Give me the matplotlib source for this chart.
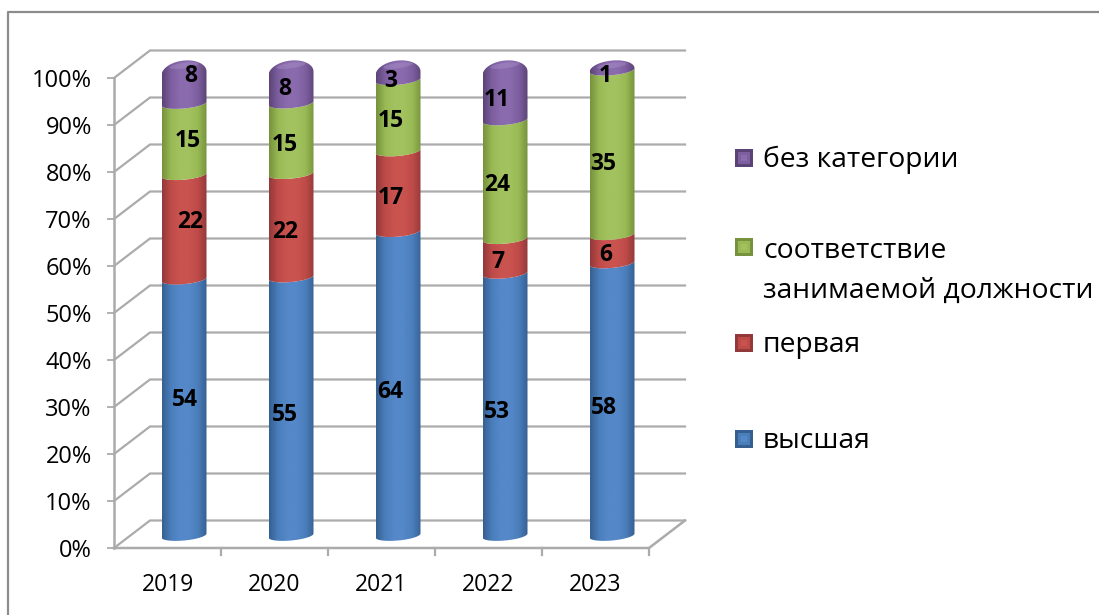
import numpy as np
import matplotlib
matplotlib.use("Agg")
import matplotlib.pyplot as plt
from matplotlib.colors import LinearSegmentedColormap
from matplotlib.patches import Polygon, Rectangle
from matplotlib.lines import Line2D
from matplotlib.transforms import Affine2D

years = ["2019", "2020", "2021", "2022", "2023"]
vysshaya = [54, 55, 64, 53, 58]
pervaya = [22, 22, 17, 7, 6]
sootv = [15, 15, 15, 24, 35]
bez_kat = [8, 8, 3, 11, 1]
series = [vysshaya, pervaya, sootv, bez_kat]

legend_names = ["без категории", "соответствие\nзанимаемой должности", "первая", "высшая"]
y_labels = ["0%", "10%", "20%", "30%", "40%", "50%", "60%", "70%", "80%", "90%", "100%"]

# edge / middle / highlight colours for the cylinders
shades = [
    ("#365f91", "#4a7ebb", "#5488c8"),
    ("#93393a", "#be4b48", "#c9534f"),
    ("#76923c", "#98b954", "#a2c25f"),
    ("#5c4376", "#7d5fa0", "#8a6bad"),
]

plt.rcParams["font.family"] = ["Open Sans", "DejaVu Sans"]
W, H = 1099, 615
fig = plt.figure(figsize=(W / 100, H / 100), dpi=100)
px = Affine2D().scale(1 / W, -1 / H).translate(0, 1) + fig.transFigure

# outer frame, only top and left are visible
fig.add_artist(Line2D([8, 8, W], [H, 12, 12], color="#8c8c8c", lw=1.6, transform=px))

ax = fig.add_axes([114 / W, 1 - 548 / H, 535 / W, 470 / H])
for s in ax.spines.values():
    s.set_visible(False)
ax.patch.set_alpha(0)

px_x = 107.0
px_y = 4.7
grid_c = "#ababab"
dx, dy = 36 / px_x, 27.5 / px_y
n = len(years)
x_l, x_r = -0.5, n - 0.5

# walls
for v in range(0, 101, 10):
    ax.plot([x_l, x_l + dx, x_r + dx], [v, v + dy, v + dy], color=grid_c, lw=1.6,
            clip_on=False, zorder=1, solid_joinstyle="miter")
ax.plot([x_l, x_r, x_r + dx], [0, 0, dy], color=grid_c, lw=1.8, clip_on=False, zorder=1)
ax.plot([x_l, x_l], [0, 100], color=grid_c, lw=1.8, clip_on=False, zorder=1)
for i in range(1, n + 1):
    ax.plot([x_l + i, x_l + i], [0, -6.5 / px_y], color=grid_c, lw=1.6, clip_on=False, zorder=1)

ax.set_xticks(range(n))
ax.set_xticklabels(years, fontsize=16.5, color="black")
ax.tick_params(axis="x", length=0, pad=18)
ax.set_yticks(range(0, 101, 10))
ax.set_yticklabels(y_labels, fontsize=17, color="black")
ax.tick_params(axis="y", length=5, width=1.3, color=grid_c, pad=11)

# cylinders
off_x = 16.5 / px_x
off_y = 12.5 / px_y
half_w = 22.5 / px_x
minor = 5.0 / px_y
tilt = 2.0 / px_y
t = np.linspace(0, np.pi, 60)


def arc(cx, y, upper=False, scale=1.0):
    xs = cx - half_w * np.cos(t)
    sign = 1 if upper else -1
    ys = y + sign * scale * minor * np.sin(t) + tilt * (xs - cx) / half_w
    return np.column_stack([xs, ys])


vals = np.array(series, dtype=float)
shares = vals / vals.sum(axis=0) * 100
tops = shares.cumsum(axis=0)

# label nudges in pixels, the labels do not sit quite in the middle of the segments
nudge_x = [[1, 6, 4, 7], [-6, -6, -6, -6], [-8, -7, -7, -7], [-8, -7, -8, -8], [-8, -6, -9, -7]]
nudge_y = [[7, 5, -2, 8], [-9, -7, -7, -5], [-8, -7, -6, -8], [-8, -6, -6, -7], [-9, -6, -12, -8]]

for i in range(n):
    cx = i + off_x
    bottom = 0.0
    for k in range(len(series)):
        top = tops[k, i]
        y0, y1 = bottom + off_y, top + off_y
        last = k == len(series) - 1
        lower = arc(cx, y0)
        if last:
            # rounded shoulders, the arc starts lower when the segment has room for it
            drop = min(8.0 / px_y, y1 - y0)
            upper = arc(cx, y1 - drop, upper=True, scale=1 + drop / minor)
        else:
            upper = arc(cx, y1)
        pts = np.vstack([lower, upper[::-1]])
        poly = Polygon(pts, closed=True, transform=ax.transData, fc="none", ec="none")
        ax.add_patch(poly)
        c_edge, c_mid, c_hi = shades[k]
        cmap = LinearSegmentedColormap.from_list(
            "c", [c_edge, c_mid, c_hi, c_hi, c_mid, c_edge],
            N=128)
        grad = np.linspace(0, 1, 128).reshape(1, -1)
        im = ax.imshow(grad, cmap=cmap, aspect="auto", interpolation="bilinear",
                       extent=[cx - half_w, cx + half_w, y0 - 2 * minor, y1 + 2 * minor],
                       zorder=3)
        im.set_clip_box(fig.bbox)
        im.set_clip_path(poly)
        if last:
            # soft highlight on the top of the cylinder
            hl = np.vstack([arc(cx, y1, scale=0.55), arc(cx, y1, upper=True, scale=0.55)[::-1]])
            hl[:, 0] = cx + (hl[:, 0] - cx) * 0.65
            ax.add_patch(Polygon(hl, closed=True, fc="#b9a3d6", ec="none", alpha=0.3,
                                 zorder=4, clip_on=False))
        ax.annotate(str(int(vals[k, i])), (cx, (y0 + y1) / 2),
                    xytext=(nudge_x[i][k] * 0.72, nudge_y[i][k] * 0.72),
                    textcoords="offset points", ha="center", va="center",
                    fontsize=16.5, fontweight="bold", color="black", zorder=6,
                    annotation_clip=False)
        bottom = top

ax.set_xlim(x_l, x_r)
ax.set_ylim(0, 100)

# legend
leg_y = [158, 247, 343, 439]
text_y = [160, 251, 345, 441]
for k, name in enumerate(legend_names):
    edge, mid, hi = shades[len(series) - 1 - k]
    fig.add_artist(Rectangle((735, leg_y[k] - 9), 18, 18, fc=edge, ec="none", transform=px))
    fig.add_artist(Rectangle((738, leg_y[k] - 6), 12, 12, fc=mid, ec="none", transform=px))
    fig.add_artist(Rectangle((741, leg_y[k] - 3), 6, 6, fc=hi, ec="none", transform=px))
    first = name.split("\n")
    fig.text(763 / W, 1 - text_y[k] / H, first[0], fontsize=20.3, va="center", ha="left", color="black")
    if len(first) > 1:
        fig.text(763 / W, 1 - 291 / H, first[1], fontsize=20.3, va="center", ha="left", color="black")

fig.savefig("out.png", dpi=100, facecolor="white")
